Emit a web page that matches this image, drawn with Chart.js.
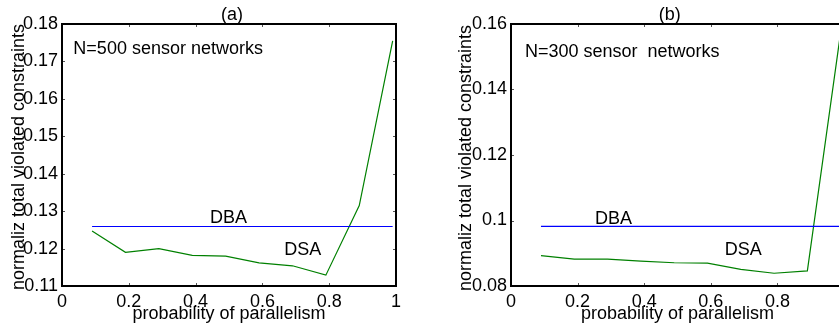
<!DOCTYPE html>
<html><head><meta charset="utf-8">
<script src="https://cdn.jsdelivr.net/npm/chart.js@4/dist/chart.umd.min.js"></script>
<style>
html,body{margin:0;padding:0;background:#fff;overflow:hidden;width:839px;height:324px;}
#wrap{position:relative;width:839px;height:324px;overflow:hidden;background:#fff;}
canvas{position:absolute;top:0;}
#ca{left:0;} #cb{left:420px;}
</style></head><body>
<div id="wrap"><canvas id="ca" width="420" height="324"></canvas><canvas id="cb" width="440" height="324"></canvas></div>
<script>
// ---- data ----
const parallelism = [0.09, 0.19, 0.29, 0.39, 0.49, 0.59, 0.69, 0.79, 0.89, 0.99];
const dsaA = [0.1247, 0.1190, 0.1200, 0.1182, 0.1180, 0.1162, 0.1154, 0.1129, 0.1315, 0.1755];
const dbaA = [0.1259, 0.1259, 0.1259, 0.1259, 0.1259, 0.1259, 0.1259, 0.1259, 0.1259, 0.1259];
const dsaB = [0.0893, 0.0882, 0.0882, 0.0876, 0.0871, 0.0870, 0.0851, 0.0839, 0.0846, 0.1575];
const dbaB = [0.0982, 0.0982, 0.0982, 0.0982, 0.0982, 0.0982, 0.0982, 0.0982, 0.0982, 0.0982];
const xTickValues = [0, 0.2, 0.4, 0.6, 0.8, 1];
const yTickValuesA = [0.11, 0.12, 0.13, 0.14, 0.15, 0.16, 0.17, 0.18];
const yTickValuesB = [0.08, 0.10, 0.12, 0.14, 0.16];
const panelTitles = ['(a)', '(b)'];
const noteTexts = ['N=500 sensor networks', 'N=300 sensor  networks'];
const seriesNames = ['DBA', 'DSA'];
const xTitle = 'probability of parallelism';
const yTitle = 'normaliz total violated constraints';

Chart.defaults.font.family = "'Liberation Sans', Arial, sans-serif";
Chart.defaults.font.size = 18;
Chart.defaults.color = '#000';

const fmt = v => String(parseFloat(Number(v).toFixed(3)));
const pts = (xs, ys) => xs.map((x, i) => ({x: x, y: ys[i]}));

const framePlugin = {
  id: 'frame',
  afterDraw(chart, args, o) {
    const {ctx, chartArea: ca, scales: {x, y}} = chart;
    ctx.save();
    // inward ticks
    ctx.strokeStyle = '#555';
    ctx.lineWidth = 1;
    ctx.beginPath();
    xTickValues.forEach(v => {
      const px = Math.round(x.getPixelForValue(v)) + 0.5;
      ctx.moveTo(px, ca.bottom); ctx.lineTo(px, ca.bottom - 3);
      ctx.moveTo(px, ca.top); ctx.lineTo(px, ca.top + 3);
    });
    o.yTicks.forEach(v => {
      const py = Math.round(y.getPixelForValue(v)) + 0.5;
      ctx.moveTo(ca.left, py); ctx.lineTo(ca.left + 3, py);
      ctx.moveTo(ca.right, py); ctx.lineTo(ca.right - 3, py);
    });
    ctx.stroke();
    // box
    ctx.strokeStyle = '#000';
    ctx.lineWidth = 2;
    ctx.strokeRect(ca.left, ca.top, ca.right - ca.left, ca.bottom - ca.top);
    // texts
    ctx.fillStyle = '#000';
    ctx.font = "18px 'Liberation Sans', Arial, sans-serif";
    ctx.textBaseline = 'alphabetic';
    ctx.textAlign = 'center';
    ctx.fillText(o.title, x.getPixelForValue(o.titleX), o.titleBaseline);
    ctx.fillText(xTitle, x.getPixelForValue(0.5), o.xTitleBaseline);
    ctx.textAlign = 'left';
    o.notes.forEach(n => ctx.fillText(n.t, x.getPixelForValue(n.x), y.getPixelForValue(n.y)));
    ctx.translate(o.yTitleBaseline, o.yTitleCenter);
    ctx.rotate(-Math.PI / 2);
    ctx.textAlign = 'center';
    ctx.fillText(yTitle, 0, 0);
    ctx.restore();
  }
};

function makeChart(id, dsa, dba, yMin, yMax, yTicks, yWidth, padRight, frameOpts) {
  return new Chart(document.getElementById(id), {
    type: 'scatter',
    data: {
      datasets: [
        {label: seriesNames[0], data: pts(parallelism, dba), showLine: true, borderColor: 'rgb(0,0,255)', borderWidth: 1.2, pointRadius: 0, tension: 0},
        {label: seriesNames[1], data: pts(parallelism, dsa), showLine: true, borderColor: 'rgb(0,128,0)', borderWidth: 1.2, pointRadius: 0, tension: 0}
      ]
    },
    options: {
      responsive: false, animation: false, devicePixelRatio: 1,
      layout: {padding: {top: 24, right: padRight, bottom: 0, left: 0}},
      plugins: {legend: {display: false}, tooltip: {enabled: false}, frame: Object.assign({yTicks: yTicks}, frameOpts)},
      scales: {
        x: {
          type: 'linear', min: 0, max: 1,
          afterBuildTicks: s => { s.ticks = xTickValues.map(v => ({value: v})); },
          afterFit: s => { s.height = 38; },
          ticks: {callback: v => fmt(v), padding: 5, maxRotation: 0, autoSkip: false, color: '#000'},
          grid: {display: false, drawTicks: false}, border: {display: false}
        },
        y: {
          type: 'linear', min: yMin, max: yMax,
          afterBuildTicks: s => { s.ticks = yTicks.map(v => ({value: v})); },
          afterFit: s => { s.width = yWidth; },
          ticks: {callback: v => fmt(v), padding: 4, autoSkip: false, color: '#000'},
          grid: {display: false, drawTicks: false}, border: {display: false}
        }
      }
    },
    plugins: [framePlugin]
  });
}

makeChart('ca', dsaA, dbaA, 0.11, 0.18, yTickValuesA, 62, 24, {
  title: panelTitles[0], titleX: 0.509, titleBaseline: 20, xTitleBaseline: 318.5,
  yTitleBaseline: 24, yTitleCenter: 157,
  notes: [{t: noteTexts[0], x: 0.034, y: 0.1721}, {t: seriesNames[0], x: 0.443, y: 0.1269}, {t: seriesNames[1], x: 0.6656, y: 0.1182}]
});
makeChart('cb', dsaB, dbaB, 0.08, 0.16, yTickValuesB, 91, 16, {
  title: panelTitles[1], titleX: 0.477, titleBaseline: 20, xTitleBaseline: 318.5,
  yTitleBaseline: 50.7, yTitleCenter: 158,
  notes: [{t: noteTexts[1], x: 0.042, y: 0.1498}, {t: seriesNames[0], x: 0.252, y: 0.0989}, {t: seriesNames[1], x: 0.642, y: 0.0895}]
});
</script>
</body></html>
